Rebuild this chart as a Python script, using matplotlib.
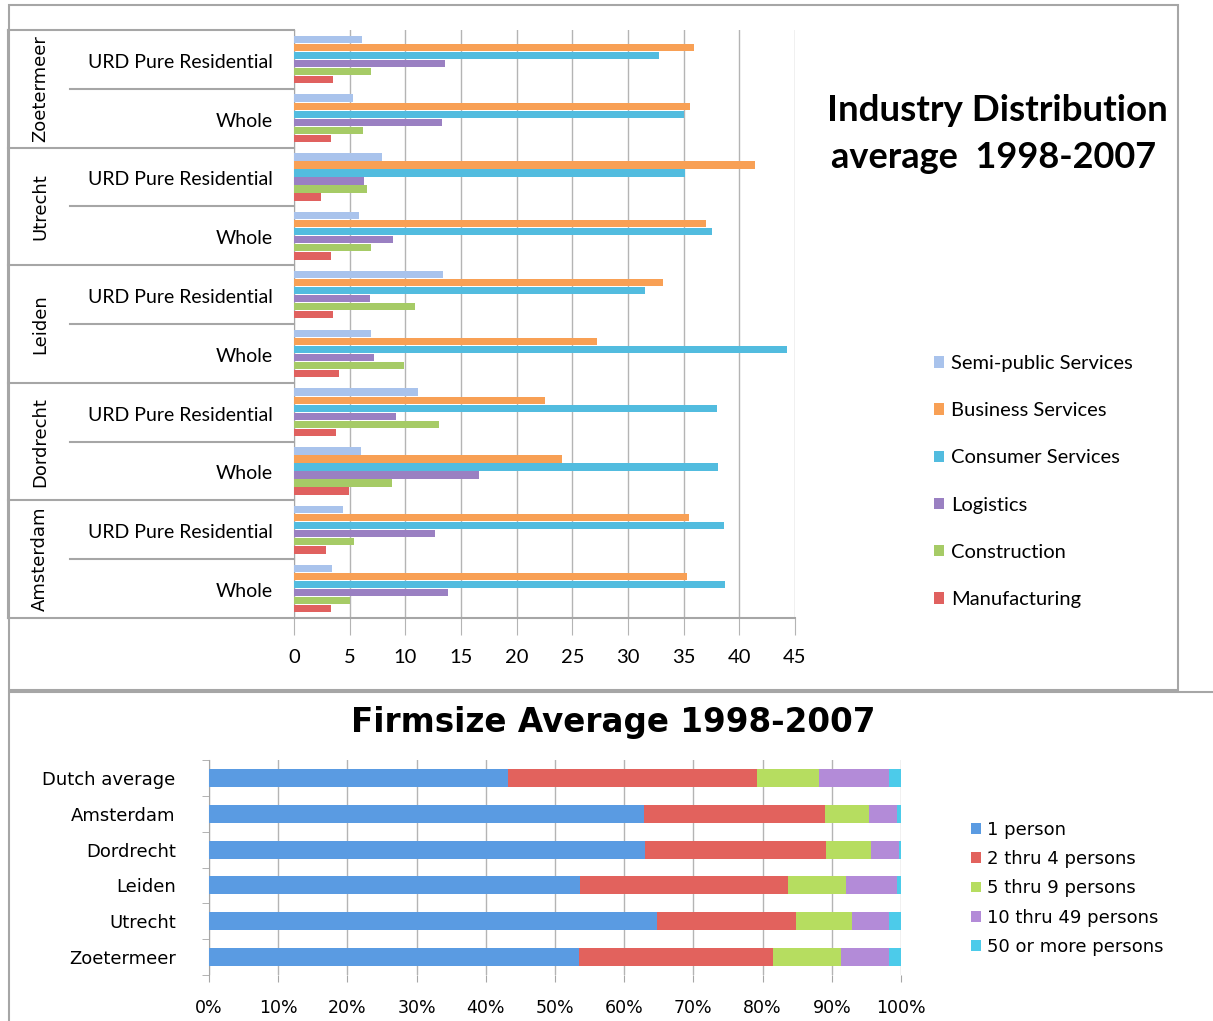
import matplotlib
matplotlib.use("Agg")
import matplotlib.pyplot as plt
from matplotlib.patches import Rectangle
from matplotlib.transforms import blended_transform_factory
import numpy as np

# Industry distribution, average 1998-2007 (share of firms, %)
CITIES = ["Zoetermeer", "Utrecht", "Leiden", "Dordrecht", "Amsterdam"]
AREAS = ["URD Pure Residential", "Whole"]
SECTORS = ["Semi-public Services", "Business Services", "Consumer Services",
           "Logistics", "Construction", "Manufacturing"]
# one value per city/area row, top to bottom
SEMI_PUBLIC = [6.1, 5.3, 7.9, 5.8, 13.4, 6.9, 11.1, 6.0, 4.4, 3.4]
BUSINESS = [35.9, 35.6, 41.4, 37.0, 33.1, 27.2, 22.5, 24.1, 35.5, 35.3]
CONSUMER = [32.8, 35.0, 35.1, 37.5, 31.5, 44.3, 38.0, 38.1, 38.6, 38.7]
LOGISTICS = [13.6, 13.3, 6.3, 8.9, 6.8, 7.2, 9.2, 16.6, 12.7, 13.8]
CONSTRUCTION = [6.9, 6.2, 6.6, 6.9, 10.9, 9.9, 13.0, 8.8, 5.4, 5.0]
MANUFACTURING = [3.5, 3.3, 2.4, 3.3, 3.5, 4.0, 3.8, 4.9, 2.9, 3.3]
INDUSTRY_TICKS = [0, 5, 10, 15, 20, 25, 30, 35, 40, 45]

# Firm size, average 1998-2007 (% of firms)
FIRM_ROWS = ["Dutch average", "Amsterdam", "Dordrecht", "Leiden", "Utrecht", "Zoetermeer"]
SIZE_CLASSES = ["1 person", "2 thru 4 persons", "5 thru 9 persons",
                "10 thru 49 persons", "50 or more persons"]
ONE_PERSON = [43.2, 62.9, 63.0, 53.6, 64.7, 53.4]
TWO_FOUR = [36.0, 26.1, 26.1, 30.0, 20.1, 28.1]
FIVE_NINE = [8.9, 6.4, 6.5, 8.5, 8.1, 9.8]
TEN_FORTYNINE = [10.2, 4.0, 4.1, 7.3, 5.4, 7.0]
FIFTY_PLUS = [1.7, 0.6, 0.3, 0.6, 1.7, 1.7]

SECTOR_COLOURS = ["#a9c3ec", "#f8a055", "#52bcdf", "#9a80c2", "#a6cb66", "#e0615f"]
SIZE_COLOURS = ["#5a9be2", "#e2625d", "#b6dd60", "#b38bd8", "#4ccbea"]
FRAME = "#a6a6a6"
GRID = "#b4b4b4"

W, H = 1213, 1021


def fx(px):
    return px / W


def fy(py):
    return 1 - py / H


def draw_industry(fig):
    ax = fig.add_axes([fx(294), fy(618), fx(795) - fx(294), fy(30) - fy(618)])
    series = [SEMI_PUBLIC, BUSINESS, CONSUMER, LOGISTICS, CONSTRUCTION, MANUFACTURING]
    n_rows = len(CITIES) * len(AREAS)
    ypos = np.arange(n_rows)[::-1]
    h = 0.82 / len(series)
    for k, (vals, colour) in enumerate(zip(series, SECTOR_COLOURS)):
        ax.barh(ypos + (2.5 - k) * h, vals, height=h * 0.9, color=colour,
                label=SECTORS[k], zorder=3)

    ax.set_xlim(0, 45)
    ax.set_ylim(-0.5, n_rows - 0.5)
    ax.set_xticks(INDUSTRY_TICKS)
    ax.set_xticklabels([str(t) for t in INDUSTRY_TICKS], family="Lato", fontsize=14.5)
    ax.tick_params(axis="x", length=12, color=GRID, pad=10)
    ax.set_yticks([])
    ax.grid(axis="x", color=GRID, lw=1, zorder=0)
    for side in ["top", "right"]:
        ax.spines[side].set_visible(False)
    ax.spines["left"].set_color(FRAME)
    ax.spines["bottom"].set_visible(False)

    # category table on the left of the plot
    trans = blended_transform_factory(ax.transAxes, ax.transData)
    x_outer, x_inner = -0.571, -0.447
    for g in range(len(CITIES) + 1):
        yb = n_rows - 0.5 - 2 * g
        x_end = 1.0 if g == len(CITIES) else 0.0
        ax.plot([x_outer, x_end], [yb, yb], color=FRAME, lw=1.5, transform=trans,
                clip_on=False)
    for g in range(len(CITIES)):
        ym = n_rows - 1.5 - 2 * g
        ax.plot([x_inner, 0], [ym, ym], color=FRAME, lw=1.5, transform=trans, clip_on=False)
        ax.text(-0.507, ym, CITIES[g], rotation=90, ha="center", va="center",
                family="DejaVu Sans", fontsize=13, transform=trans)
        for a, area in enumerate(AREAS):
            ax.text(-0.042, n_rows - 1 - 2 * g - a - 0.05, area, ha="right", va="center",
                    family="Lato", fontsize=14, transform=trans)
    ax.plot([x_outer, x_outer], [-0.5, n_rows - 0.5], color=FRAME, lw=1.5,
            transform=trans, clip_on=False)

    fig.text(fx(997), fy(110), "Industry Distribution", ha="center", va="center",
             family="Lato", fontweight="bold", fontsize=26.5)
    fig.text(fx(994), fy(158), "average  1998-2007", ha="center", va="center",
             family="Lato", fontweight="bold", fontsize=26)
    fig.legend(*ax.get_legend_handles_labels(), loc="upper left",
               bbox_to_anchor=(fx(934), fy(355)), frameon=False,
               prop={"family": "Lato", "size": 14.5},
               handlelength=0.5, handleheight=0.5, handletextpad=0.35,
               labelspacing=1.5, borderpad=0, borderaxespad=0)


def draw_firmsize(fig):
    ax = fig.add_axes([fx(209), fy(975), fx(901) - fx(209), fy(760) - fy(975)])
    series = [ONE_PERSON, TWO_FOUR, FIVE_NINE, TEN_FORTYNINE, FIFTY_PLUS]
    ypos = np.arange(len(FIRM_ROWS))[::-1]
    left = np.zeros(len(FIRM_ROWS))
    for vals, colour, name in zip(series, SIZE_COLOURS, SIZE_CLASSES):
        ax.barh(ypos, vals, left=left, height=0.5, color=colour, label=name, zorder=3)
        left += np.array(vals)

    ax.set_xlim(0, 100)
    ax.set_ylim(-0.5, len(FIRM_ROWS) - 0.5)
    ax.set_xticks(np.arange(0, 101, 10))
    ax.set_xticklabels([f"{t}%" for t in range(0, 101, 10)], family="DejaVu Sans", fontsize=12.5)
    ax.set_yticks(ypos)
    ax.set_yticklabels(FIRM_ROWS, family="DejaVu Sans", fontsize=13)
    ax.set_yticks(np.arange(-0.5, len(FIRM_ROWS)), minor=True)
    ax.tick_params(axis="y", which="major", length=0, pad=24)
    ax.tick_params(axis="y", which="minor", length=5, color=FRAME)
    ax.tick_params(axis="x", length=5, color=FRAME, pad=12)
    ax.grid(axis="x", color=GRID, lw=1, zorder=0)
    for side in ["top", "right", "bottom"]:
        ax.spines[side].set_visible(False)
    ax.spines["left"].set_color(FRAME)

    fig.text(fx(613), fy(722), "Firmsize Average 1998-2007", ha="center", va="center",
             family="DejaVu Sans", fontweight="bold", fontsize=23.5)
    fig.legend(*ax.get_legend_handles_labels(), loc="upper left",
               bbox_to_anchor=(fx(971), fy(821)), frameon=False,
               prop={"family": "DejaVu Sans", "size": 13},
               handlelength=0.55, handleheight=0.55, handletextpad=0.35,
               labelspacing=0.62, borderpad=0, borderaxespad=0)


def main():
    fig = plt.figure(figsize=(W / 100, H / 100), dpi=100)
    fig.patches.append(Rectangle((fx(9), fy(690)), fx(1178) - fx(9), fy(5) - fy(690),
                                 transform=fig.transFigure, fill=False, ec=FRAME, lw=1.5))
    fig.patches.append(Rectangle((fx(9), -0.02), 1.0, fy(692) + 0.02,
                                 transform=fig.transFigure, fill=False, ec=FRAME, lw=1.5))
    draw_industry(fig)
    draw_firmsize(fig)
    fig.savefig("out.png", dpi=100)


if __name__ == "__main__":
    main()
